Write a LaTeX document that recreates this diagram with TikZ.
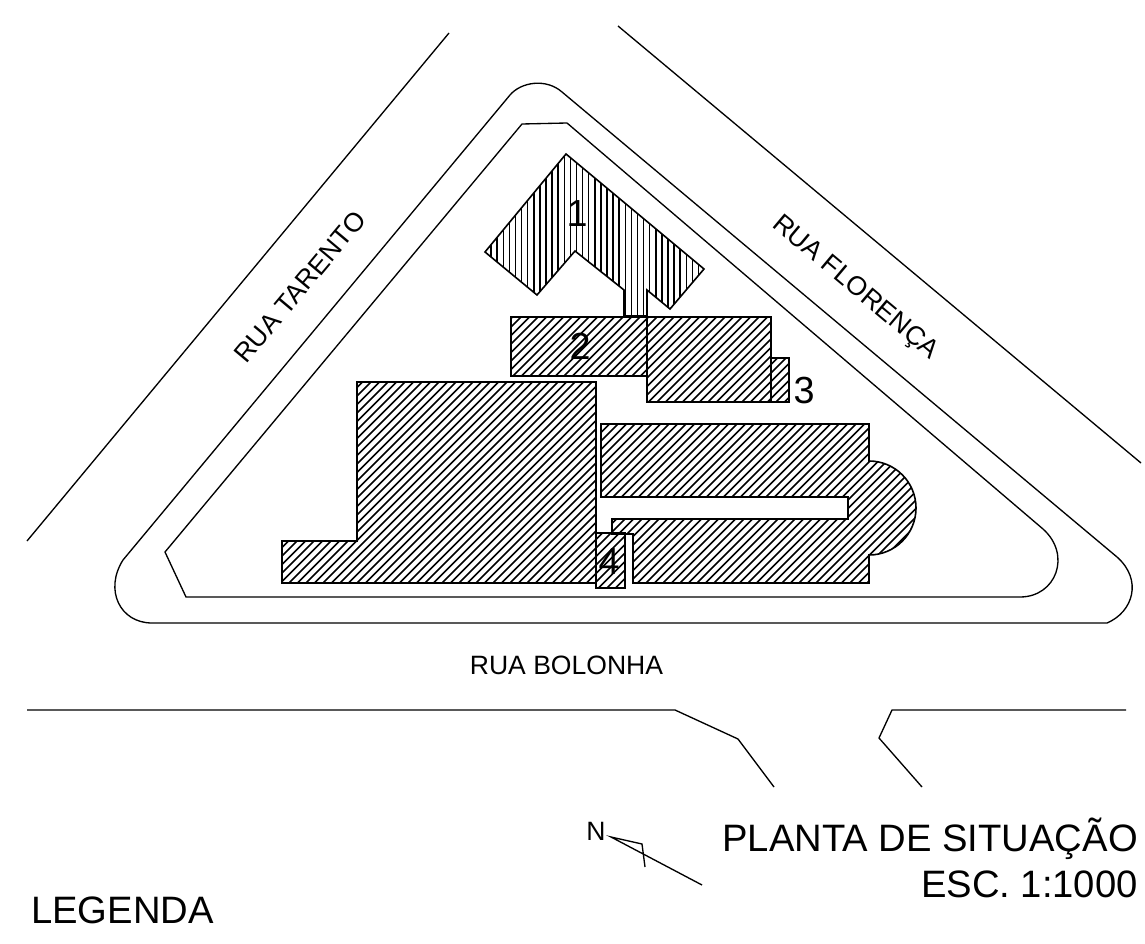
\documentclass[tikz,border=0pt]{standalone}
\usepackage{fontspec}
\setmainfont{Liberation Sans}
\newcommand{\fpx}[1]{\fontsize{#1}{#1}\selectfont}
\newcommand{\hatchdiag}[1]{%
  \begin{scope}
    \clip #1;
    \foreach \c in {600,608.5,...,1700} {\draw[hatchline] (\c,0) -- (\c-1000,1000);}
  \end{scope}
  \draw[bldg] #1;}
\newcommand{\hatchvert}[1]{%
  \begin{scope}
    \clip #1;
    \foreach \c in {485,491.1,...,710} {\draw[hatchline,line width=1.1pt] (\c,100) -- (\c,400);}
  \end{scope}
  \draw[bldg] #1;}
\tikzset{
  hatchline/.style={black,line width=1.25pt},
  bldg/.style={black,line width=1.2pt,line join=miter},
  road/.style={black,line width=1pt},
  lbl/.style={inner sep=0pt,black},
}
\begin{document}
\begin{tikzpicture}[x=0.75pt,y=-0.75pt]
\useasboundingbox (0,0) rectangle (1145,944);
% streets
\draw[road] (449,33) -- (27,541);
\draw[road] (618,26) -- (1141,463);
\draw[road] (27,710) -- (675,710) -- (738,739) -- (774,787);
\draw[road] (1126,710) -- (892,710) -- (879,738) -- (922,787);
% island
\draw[road] (123,560) -- (510,95) .. controls (521,82) and (546,78) .. (562,92)
  -- (1117,557) .. controls (1143,580) and (1133,612) .. (1107,623) -- (152,623)
  .. controls (120,623) and (104,590) .. (123,560) -- cycle;
\draw[road] (165,552) -- (522,124) -- (567,123) -- (1043,529)
  .. controls (1072,555) and (1056,597) .. (1020,597) -- (186,597) -- cycle;
% buildings
\hatchvert{(566,154) -- (485,252) -- (537,295) -- (575,251) -- (624,290) -- (624,316) -- (647,316) -- (647,290) -- (670,309) -- (704,269) -- cycle}
\hatchdiag{(511,317) rectangle (647,376)}
\hatchdiag{(647,317) rectangle (771,402)}
\hatchdiag{(771,358) rectangle (789,402)}
\hatchdiag{(357,382) -- (596,382) -- (596,583) -- (282,583) -- (282,541) -- (357,541) -- cycle}
\hatchdiag{(601,424) -- (869,424) -- (869,461) arc[start angle=-90,end angle=90,radius=47] -- (869,583) -- (633,583) -- (633,534) -- (612,534) -- (612,519) -- (848,519) -- (848,497) -- (601,497) -- cycle}
\hatchdiag{(596,533) rectangle (625,588)}
% north arrow
\coordinate (nA) at (702,885);
\coordinate (nB) at (611,837);
\coordinate (nC) at (642,844);
\coordinate (nD) at (645,867);
\draw[road] (nA) -- (nB) -- (nC) -- (nD);
% labels
\node[lbl] (n1) at (577,214) {\fpx{28.3pt}1};
\node[lbl] (n2) at (580,346) {\fpx{28.3pt}2};
\node[lbl] (n3) at (804,391) {\fpx{28.3pt}3};
\node[lbl] (n4) at (609,562) {\fpx{28.3pt}4};
\node[lbl,rotate=50] (tarento) at (300,287) {\fpx{19.9pt}RUA TARENTO};
\node[lbl,rotate=-40] (florenca) at (855,288) {\fpx{19.9pt}RUA FLORENÇA};
\node[lbl] (bolonha) at (566.5,665) {\fpx{19.9pt}RUA BOLONHA};
\node[lbl] (norte) at (596,831) {\fpx{19.9pt}N};
\node[lbl,anchor=base east] (planta) at (1138,851) {\fpx{28.65pt}PLANTA DE SITUAÇÃO};
\node[lbl,anchor=base east] (esc) at (1138,897) {\fpx{28.65pt}ESC. 1:1000};
\node[lbl,anchor=base west] (legenda) at (31,923) {\fpx{28.65pt}LEGENDA};
\end{tikzpicture}
\end{document}
